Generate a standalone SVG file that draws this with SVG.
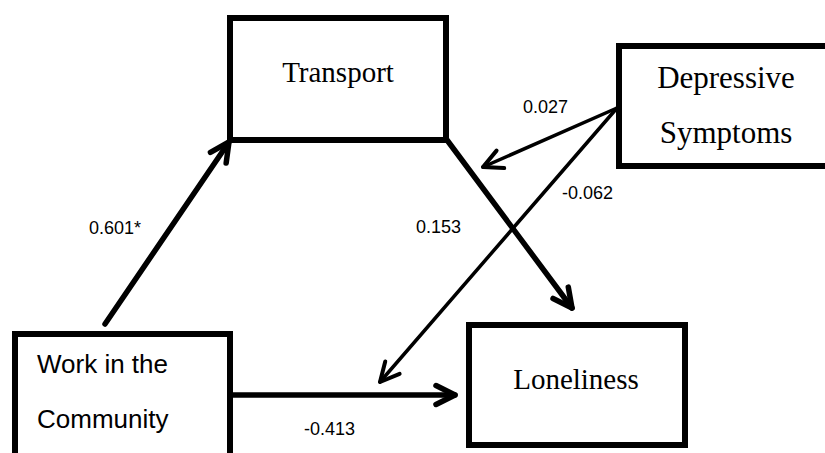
<svg xmlns="http://www.w3.org/2000/svg" width="825" height="453" viewBox="0 0 825 453">
  <defs>
    <style>
      .box { fill: #ffffff; stroke: #000000; stroke-width: 6; }
      .serif { font-family: "Liberation Serif", "Times New Roman", serif; fill: #000000; }
      .sans { font-family: "Liberation Sans", Arial, sans-serif; fill: #000000; }
      .coef { font-family: "Liberation Sans", Arial, sans-serif; font-size: 18px; fill: #000000; }
      .thick { stroke: #000000; stroke-width: 5.5; fill: none; stroke-linecap: round; }
      .thin { stroke: #000000; stroke-width: 3.5; fill: none; stroke-linecap: round; }
    </style>
    <marker id="headThick" viewBox="-25 -14 30 28" markerWidth="30" markerHeight="28" refX="0" refY="0" markerUnits="userSpaceOnUse" orient="auto">
      <path d="M -19,-9.5 L 0,0 L -19,9.5" fill="none" stroke="#000000" stroke-width="5.5" stroke-linecap="round" stroke-linejoin="round"/>
    </marker>
    <marker id="headThin" viewBox="-25 -14 30 28" markerWidth="30" markerHeight="28" refX="0" refY="0" markerUnits="userSpaceOnUse" orient="auto">
      <path d="M -19,-9.5 L 0,0 L -19,9.5" fill="none" stroke="#000000" stroke-width="4" stroke-linecap="round" stroke-linejoin="round"/>
    </marker>
  </defs>

  <rect width="825" height="453" fill="#ffffff"/>

  <g id="transport">
    <rect class="box" x="230" y="18" width="216" height="122"/>
    <text class="serif" x="338" y="82" font-size="29" text-anchor="middle">Transport</text>
  </g>

  <g id="depressive-symptoms">
    <rect class="box" x="619" y="46" width="220" height="120"/>
    <text class="serif" x="726" y="88" font-size="31" text-anchor="middle">Depressive</text>
    <text class="serif" x="726" y="143" font-size="31" text-anchor="middle">Symptoms</text>
  </g>

  <g id="work-in-the-community">
    <rect class="box" x="15" y="334" width="215" height="140" stroke-width="5"/>
    <text class="sans" x="37" y="373" font-size="26">Work in the</text>
    <text class="sans" x="37" y="428" font-size="26">Community</text>
  </g>

  <g id="loneliness">
    <rect class="box" x="469" y="325" width="216" height="120" stroke-width="7"/>
    <text class="serif" x="576" y="389" font-size="29" text-anchor="middle">Loneliness</text>
  </g>

  <g id="connectors">
    <line class="thick" x1="105" y1="324" x2="229" y2="142" marker-end="url(#headThick)"/>
    <line class="thick" x1="447" y1="140" x2="572" y2="308" marker-end="url(#headThick)"/>
    <line class="thick" x1="232" y1="395" x2="455" y2="395" marker-end="url(#headThick)"/>
    <line class="thin" x1="617" y1="108" x2="483" y2="167" marker-end="url(#headThin)"/>
    <line class="thin" x1="617" y1="108" x2="380" y2="382" marker-end="url(#headThin)"/>
  </g>

  <g id="coefficients">
    <text class="coef" x="89" y="234">0.601*</text>
    <text class="coef" x="523" y="113">0.027</text>
    <text class="coef" x="562" y="199">-0.062</text>
    <text class="coef" x="416" y="233">0.153</text>
    <text class="coef" x="304" y="435">-0.413</text>
  </g>
</svg>
